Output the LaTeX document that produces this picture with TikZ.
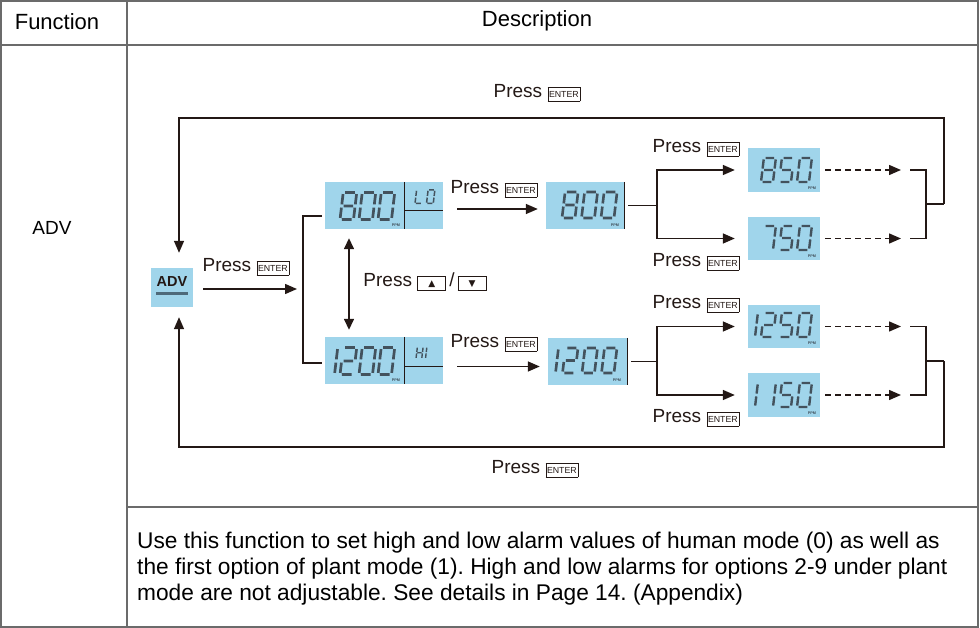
\documentclass[tikz,border=0pt]{standalone}
\usepackage{fontspec}
\setmainfont{Liberation Sans}
\newfontfamily\symfont{DejaVu Sans}
\usetikzlibrary{arrows.meta,calc,positioning}
\definecolor{Ink}{HTML}{231815}
\definecolor{Rule}{HTML}{6B6B6B}
\definecolor{LcdBlue}{HTML}{A0D5EB}
\definecolor{LcdSeg}{HTML}{43525D}
\definecolor{AdvBar}{HTML}{4E6A7A}
\newcommand{\keybox}[2]{%
  {\setlength{\fboxsep}{0.6pt}\setlength{\fboxrule}{0.8pt}%
  \fbox{\makebox[#1][c]{\rule[-3pt]{0pt}{12pt}#2}}}}
\newcommand{\enterkey}{\keybox{30pt}{\fontsize{8.8}{8.8}\selectfont ENTER}}
\newcommand{\upkey}{\keybox{26pt}{\symfont\fontsize{9}{9}\selectfont ▲}}
\newcommand{\downkey}{\keybox{26pt}{\symfont\fontsize{9}{9}\selectfont ▼}}
% seven segment pieces, unit height, width 0.5
\def\lsa{(0.07,1)--(0.43,1)}
\def\lsb{(0.5,0.94)--(0.5,0.56)}
\def\lsc{(0.5,0.44)--(0.5,0.06)}
\def\lsd{(0.07,0)--(0.43,0)}
\def\lse{(0,0.44)--(0,0.06)}
\def\lsf{(0,0.94)--(0,0.56)}
\def\lsg{(0.07,0.5)--(0.43,0.5)}
\newcommand{\lcdglyph}[1]{%
  \ifcase#1\relax
    \def\lcdpath{\lsa\lsb\lsc\lsd\lse\lsf}%
  \or \def\lcdpath{\lsb\lsc}%
  \or \def\lcdpath{\lsa\lsb\lsg\lse\lsd}%
  \or \def\lcdpath{\lsa\lsb\lsg\lsc\lsd}%
  \or \def\lcdpath{\lsf\lsg\lsb\lsc}%
  \or \def\lcdpath{\lsa\lsf\lsg\lsc\lsd}%
  \or \def\lcdpath{\lsa\lsf\lse\lsd\lsc\lsg}%
  \or \def\lcdpath{\lsa\lsb\lsc}%
  \or \def\lcdpath{\lsa\lsb\lsc\lsd\lse\lsf\lsg}%
  \or \def\lcdpath{\lsa\lsb\lsf\lsg\lsc\lsd}%
  \or \def\lcdpath{\lsf\lse\lsd}%
  \or \def\lcdpath{\lsf\lse\lsb\lsc\lsg}%
  \or \def\lcdpath{\lsf\lse}%
  \fi}
\newcommand{\lcdnum}[6]{%
  \foreach \d [count=\i from 0] in {#6}{%
    \lcdglyph{\d}%
    \begin{scope}[shift={({#1+\i*#4},#2)},x={(#3pt,0pt)},
        y={({0.12*#3pt},{#3pt})}]
      \draw[LcdSeg,line width=#5pt] \lcdpath;
    \end{scope}}}

\begin{document}
\begin{tikzpicture}[x=1pt,y=-1pt,font=\fontsize{19}{22}\selectfont,
    lcd/.style={fill=LcdBlue,inner sep=0pt},
    wire/.style={Ink,line width=1.5pt},
    arr/.style={wire,-{Triangle[length=12pt,width=10pt]}},
    darr/.style={wire,{Triangle[length=11pt,width=10pt]}-{Triangle[length=11pt,width=10pt]}},
    dasharr/.style={arr,dash pattern=on 6pt off 4pt},
    ppm/.style={font=\fontsize{3.8}{4}\selectfont\bfseries,text=LcdSeg,inner sep=0pt},
    press/.style={inner sep=0pt,text=Ink}]
  \useasboundingbox (0,0) rectangle (980,628);
  \draw[Rule,line width=1.4pt] (1,1) rectangle (978,627);
  \draw[Rule,line width=1.4pt] (127,1) -- (127,627)
    (1,45) -- (978,45) (127,507) -- (978,507);
  \node (hdrFunc) at (57,22) {\fontsize{22}{24}\selectfont Function};
  \node (hdrDesc) at (537,21) {\fontsize{22}{24}\selectfont Description};
  \node (fnAdv) at (52,228) {ADV};

  % displays
  \node[lcd,minimum width=42pt,minimum height=39pt] (adv) at (172,287.5) {};
  \node[font=\fontsize{14.5}{15}\selectfont\bfseries,text=Ink,inner sep=0pt]
    (advTxt) at (172,282) {ADV};
  \draw[AdvBar,line width=2.5pt] (156,293.5) -- (188,293.5);
  \node[lcd,minimum width=118pt,minimum height=47pt] (lo) at (384,205.5) {};
  \node[lcd,minimum width=118pt,minimum height=47pt] (hi) at (384,360.5) {};
  \node[lcd,minimum width=78pt,minimum height=47pt] (m800) at (585,205.5) {};
  \node[lcd,minimum width=79pt,minimum height=47pt] (m1200) at (587.5,361.5) {};
  \node[lcd,minimum width=72pt,minimum height=44pt] (v850) at (784,170) {};
  \node[lcd,minimum width=72pt,minimum height=43pt] (v750) at (784,238.5) {};
  \node[lcd,minimum width=72pt,minimum height=43pt] (v1250) at (784,326.5) {};
  \node[lcd,minimum width=72pt,minimum height=44pt] (v1150) at (784,395) {};
  \draw[Ink,line width=1pt]
    ([xshift=20pt]lo.north) -- ([xshift=20pt]lo.south)
    ([xshift=20pt,yshift=-5.5pt]lo.center) -- ([yshift=-5.5pt]lo.east)
    ([xshift=20pt]hi.north) -- ([xshift=20pt]hi.south)
    ([xshift=20pt,yshift=-5.5pt]hi.center) -- ([yshift=-5.5pt]hi.east)
    (m800.north east) -- (m800.south east)
    (m1200.north east) -- (m1200.south east);
  \lcdnum{340}{219.5}{27}{19}{2.7}{8,0,0}
  \lcdnum{415}{203.5}{13.5}{11.5}{1.5}{10,0}
  \lcdnum{321}{374.5}{27}{19}{2.7}{1,2,0,0}
  \lcdnum{416}{358.5}{11.5}{9.5}{1.4}{11,12}
  \lcdnum{562}{218}{26}{19.5}{2.6}{8,0,0}
  \lcdnum{543}{373}{25}{19.5}{2.6}{1,2,0,0}
  \lcdnum{761}{182}{24}{18}{2.4}{8,5,0}
  \lcdnum{761}{250}{24}{18}{2.4}{7,5,0}
  \lcdnum{743}{337}{24}{18}{2.4}{1,2,5,0}
  \lcdnum{743}{407}{24}{18}{2.4}{1,1,5,0}
  \foreach \px/\py [count=\k] in {396/225,396/380,615/225,617/380,
      812/188,812/256,812/343,812/413}
    \node[ppm] (ppm\k) at (\px,\py) {PPM};

  % labels
  \node[press] (pressTop) at (537,93) {Press \enterkey};
  \node[press] (pressBot) at (535,469) {Press \enterkey};
  \node[press] (pressAdv) at (246,267) {Press \enterkey};
  \node[press] (pressLo) at (494,189) {Press \enterkey};
  \node[press] (pressHi) at (494,343) {Press \enterkey};
  \node[press] (press850) at (696,148) {Press \enterkey};
  \node[press] (press750) at (696,262) {Press \enterkey};
  \node[press] (press1250) at (696,304) {Press \enterkey};
  \node[press] (press1150) at (696,418) {Press \enterkey};
  \node[press] (pressUpDown) at (425,282) {Press \upkey\,/\,\downkey};

  % connectors
  \coordinate (splitA) at (303,289);
  \coordinate (brTop) at (322,216);
  \coordinate (brBot) at (322,363);
  \coordinate (forkA) at (657,205.5);
  \coordinate (forkB) at (657,361.5);
  \coordinate (inA1) at (910,170);
  \coordinate (inA2) at (910,238.5);
  \coordinate (inB1) at (910,326.5);
  \coordinate (inB2) at (910,395);
  \coordinate (mergeA) at (926,204);
  \coordinate (mergeB) at (926,361);
  \coordinate (backA) at (944,204);
  \coordinate (backB) at (944,361);
  \coordinate (topRun) at (179,118);
  \coordinate (botRun) at (179,447);
  \draw[arr,shorten <=10pt,shorten >=6pt] (adv.east |- splitA) -- (splitA);
  \draw[wire] (brTop) -| (splitA) |- (brBot);
  \draw[darr,shorten <=9pt,shorten >=7pt]
    ([xshift=-35pt]lo.south) -- ([xshift=-35pt]hi.north);
  \draw[arr,shorten <=14pt,shorten >=8pt]
    ([yshift=-3.5pt]lo.east) -- ([yshift=-3.5pt]m800.west);
  \draw[arr,shorten <=14pt,shorten >=8pt]
    ([yshift=-6pt]hi.east) -- ([yshift=-6pt]hi.east -| m1200.west);
  \draw[wire,shorten <=4pt] (m800.east) -- (forkA);
  \draw[arr,shorten >=13pt] (forkA) |- (v850.west);
  \draw[arr,shorten >=13pt] (forkA) |- (v750.west);
  \draw[wire,shorten <=4pt] (m1200.east) -- (forkB);
  \draw[arr,shorten >=13pt] (forkB) |- (v1250.west);
  \draw[arr,shorten >=13pt] (forkB) |- (v1150.west);
  \draw[dasharr,shorten <=5pt,shorten >=9pt] (v850.east) -- (inA1);
  \draw[dasharr,shorten <=5pt,shorten >=9pt] (v750.east) -- (inA2);
  \draw[dasharr,shorten <=5pt,shorten >=9pt] (v1250.east) -- (inB1);
  \draw[dasharr,shorten <=5pt,shorten >=9pt] (v1150.east) -- (inB2);
  \draw[wire] (inA1) -| (mergeA) |- (inA2) (mergeA) -- (backA);
  \draw[wire] (inB1) -| (mergeB) |- (inB2) (mergeB) -- (backB);
  \draw[arr,shorten >=15pt] (backA) |- (topRun) -- (topRun |- adv.north);
  \draw[arr,shorten >=10pt] (backB) |- (botRun) -- (botRun |- adv.south);

  \node[anchor=west,align=left,inner sep=0pt,font=\fontsize{22.7}{26}\selectfont\frenchspacing]
    (descTxt) at (137,569) {Use this function to set high and low alarm values of human mode (0) as well as\\
    the first option of plant mode (1). High and low alarms for options 2-9 under plant\\
    mode are not adjustable. See details in Page 14. (Appendix)};
\end{tikzpicture}
\end{document}
